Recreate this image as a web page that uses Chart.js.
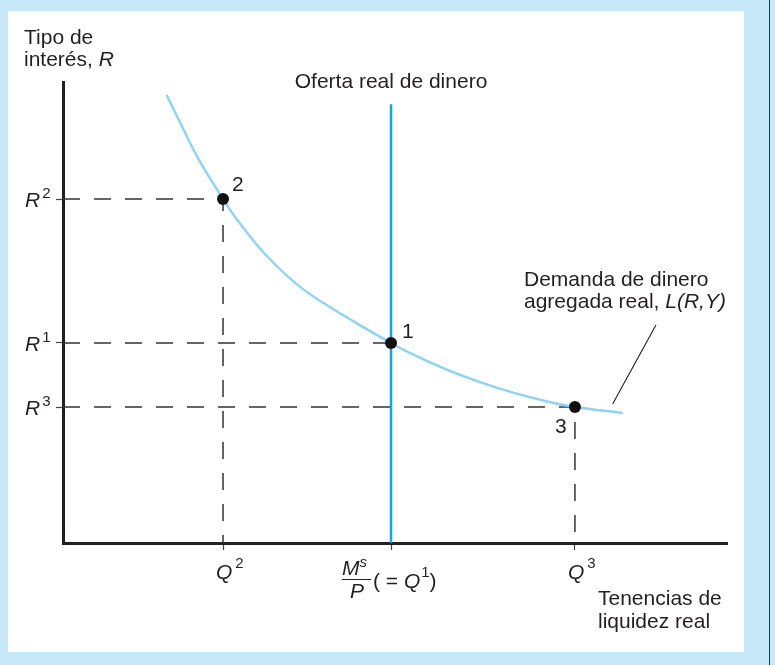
<!DOCTYPE html>
<html lang="es">
<head>
<meta charset="utf-8">
<title>Oferta y demanda de dinero</title>
<script src="https://cdn.jsdelivr.net/npm/chart.js@4.4.1/dist/chart.umd.min.js"></script>
<style>
	html, body { margin: 0; padding: 0; }
	body { width: 775px; height: 665px; background: #c6e8f8; position: relative; overflow: hidden; }
	.panel { position: absolute; left: 8px; top: 11px; width: 736px; height: 641px; background: #fff; }
	.edge { position: absolute; left: 769px; top: 0; width: 1px; height: 665px; background: #333; }
	canvas { position: absolute; left: 0; top: 0; }
</style>
</head>
<body>
<div class="panel"></div>
<div class="edge"></div>
<canvas id="chart" width="775" height="665"></canvas>
<script>
(function () {
	'use strict';

	// equilibrium points 2, 1, 3 (x = real money holdings, y = interest rate)
	var quantities = [2.41, 4.94, 7.71];
	var rates = [7.46, 4.34, 2.95];
	var pointLabels = ['2', '1', '3'];
	var rateTicks = ['2', '1', '3'];

	// aggregate real money demand L(R,Y)
	var demandX = [1.56, 1.77, 2.02, 2.41, 2.66, 3.08, 3.63, 4.42, 4.94, 5.27, 5.78, 6.28, 6.78, 7.29, 7.71, 8.43];
	var demandY = [9.72, 9.10, 8.38, 7.46, 6.94, 6.21, 5.49, 4.77, 4.34, 4.09, 3.76, 3.49, 3.26, 3.07, 2.95, 2.82];

	// real money supply Ms/P is vertical at quantities[1]
	var supplyTop = 9.52;

	// pointer from the label to the demand curve
	var leaderX = [8.28, 8.93];
	var leaderY = [3.02, 4.73];

	var INK = '#231f20';
	var FONT = '"Liberation Sans", Arial, Helvetica, sans-serif';
	var BIG = 21, SMALL = 15;

	function toPoints(xs, ys) {
		return xs.map(function (x, i) {
			return { x: x, y: ys[i] };
		});
	}

	function text(ctx, str, x, y, size, italic, align) {
		ctx.font = (italic ? 'italic ' : '') + size + 'px ' + FONT;
		ctx.textAlign = align || 'left';
		ctx.fillText(str, x, y);
		return ctx.measureText(str).width;
	}

	/**
	 * Axis labels, tick labels and annotations
	 */
	var labelsPlugin = {
		id: 'labels',
		afterDraw: function (chart) {
			var ctx = chart.ctx,
				xs = chart.scales.x,
				ys = chart.scales.y;

			ctx.save();
			ctx.fillStyle = INK;
			ctx.strokeStyle = INK;
			ctx.textBaseline = 'alphabetic';

			// y axis title
			text(ctx, 'Tipo de', 24, 44, BIG, false);
			var w = text(ctx, 'interés, ', 24, 66, BIG, false);
			text(ctx, 'R', 24 + w, 66, BIG, true);

			// x axis title
			text(ctx, 'Tenencias de', 598, 605, BIG, false);
			text(ctx, 'liquidez real', 598, 628, BIG, false);

			// supply label
			text(ctx, 'Oferta real de dinero', xs.getPixelForValue(quantities[1]), 88, BIG, false, 'center');

			// demand label
			text(ctx, 'Demanda de dinero', 524, 286, BIG, false);
			w = text(ctx, 'agregada real, ', 524, 308, BIG, false);
			text(ctx, 'L(R,Y)', 524 + w, 308, BIG, true);

			// R ticks
			rates.forEach(function (r, i) {
				var py = ys.getPixelForValue(r);
				var rw = text(ctx, 'R', 25, py + 8, BIG, true);
				text(ctx, rateTicks[i], 25 + rw + 2, py - 1, SMALL, false);
			});

			// Q2 and Q3 ticks
			[0, 2].forEach(function (i) {
				var px = xs.getPixelForValue(quantities[i]);
				var qw = text(ctx, 'Q', px - 7, 579, BIG, true);
				text(ctx, pointLabels[i], px - 7 + qw + 3, 568, SMALL, false);
			});

			// Ms/P (= Q1)
			var mx = xs.getPixelForValue(quantities[1]);
			var mw = text(ctx, 'M', mx - 49, 575, BIG, true);
			text(ctx, 's', mx - 49 + mw, 567, SMALL, true);
			ctx.lineWidth = 1;
			ctx.beginPath();
			ctx.moveTo(mx - 49, 579.5);
			ctx.lineTo(mx - 20, 579.5);
			ctx.stroke();
			text(ctx, 'P', mx - 34, 598, BIG, true, 'center');
			var px0 = mx - 18;
			px0 += text(ctx, '( = ', px0, 588, BIG, false);
			px0 += text(ctx, 'Q', px0, 588, BIG, true);
			px0 += text(ctx, '1', px0 + 1, 577, SMALL, false) + 1;
			text(ctx, ')', px0, 588, BIG, false);

			// point numbers
			var offs = [[9, -8], [11, -5], [-20, 26]];
			quantities.forEach(function (q, i) {
				text(ctx, pointLabels[i], xs.getPixelForValue(q) + offs[i][0], ys.getPixelForValue(rates[i]) + offs[i][1], BIG, false);
			});

			ctx.restore();
		}
	};

	function initMoneyChart() {
		var canvas = document.getElementById('chart'),
			datasets = [];

		datasets.push({
			label: 'equilibrios',
			data: toPoints(quantities, rates),
			showLine: false,
			pointRadius: 6,
			pointBackgroundColor: '#111',
			pointBorderWidth: 0,
			order: 0
		});

		datasets.push({
			label: 'oferta',
			data: [{ x: quantities[1], y: 0 }, { x: quantities[1], y: supplyTop }],
			showLine: true,
			borderColor: '#1aa3dd',
			borderWidth: 2.5,
			pointRadius: 0,
			order: 1
		});

		datasets.push({
			label: 'demanda',
			data: toPoints(demandX, demandY),
			showLine: true,
			borderColor: '#8fd3f3',
			borderWidth: 2.4,
			tension: 0.35,
			pointRadius: 0,
			order: 2
		});

		datasets.push({
			label: 'guia',
			data: toPoints(leaderX, leaderY),
			showLine: true,
			borderColor: INK,
			borderWidth: 1.1,
			pointRadius: 0,
			order: 3
		});

		quantities.forEach(function (q, i) {
			datasets.push({
				label: 'punto ' + pointLabels[i],
				data: [{ x: 0, y: rates[i] }, { x: q, y: rates[i] }, { x: q, y: 0 }],
				showLine: true,
				borderColor: '#333',
				borderWidth: 1.5,
				borderDash: [17, 14],
				pointRadius: 0,
				order: 4
			});
		});

		new Chart(canvas, {
			type: 'scatter',
			data: { datasets: datasets },
			plugins: [labelsPlugin],
			options: {
				responsive: false,
				devicePixelRatio: 1,
				animation: false,
				layout: { padding: { top: 82, right: 48, left: 0, bottom: 0 } },
				plugins: {
					legend: { display: false },
					tooltip: { enabled: false }
				},
				scales: {
					x: {
						type: 'linear',
						min: 0,
						max: 10,
						border: { display: true, color: INK, width: 3 },
						grid: { drawOnChartArea: false, drawTicks: true, tickLength: 7, tickColor: '#444', tickWidth: 1.2 },
						ticks: { display: false },
						afterBuildTicks: function (scale) {
							scale.ticks = quantities.map(function (v) { return { value: v }; });
						},
						afterFit: function (scale) { scale.height = 122; }
					},
					y: {
						type: 'linear',
						min: 0,
						max: 10,
						border: { display: true, color: INK, width: 3 },
						grid: { drawOnChartArea: false, drawTicks: true, tickLength: 7, tickColor: '#444', tickWidth: 1.2 },
						ticks: { display: false },
						afterBuildTicks: function (scale) {
							scale.ticks = rates.map(function (v) { return { value: v }; });
						},
						afterFit: function (scale) { scale.width = 63; }
					}
				}
			}
		});
	}

	initMoneyChart();
})();
</script>
</body>
</html>
